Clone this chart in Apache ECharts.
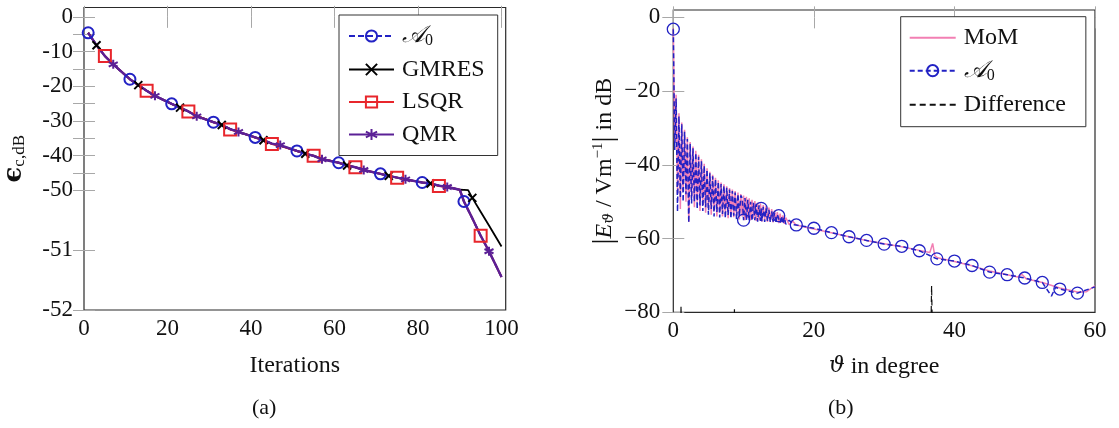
<!DOCTYPE html>
<html>
<head>
<meta charset="utf-8">
<script src="https://cdn.jsdelivr.net/npm/echarts@6/dist/echarts.min.js"></script>
<style>
  html, body { margin: 0; padding: 0; background: #fff; }
  #chart { width: 1119px; height: 428px; }
</style>
</head>
<body>
<div id="chart"></div>
<script>
// ---------- (a) relative error of the iterative solvers ----------
const iterations = [1, 3, 5, 7, 11, 13, 15, 17, 21, 23, 25, 27, 31, 33, 35, 37, 41, 43, 45, 47,
  51, 53, 55, 57, 61, 63, 65, 67, 71, 73, 75, 77, 81, 83, 85, 87, 90, 91, 92, 93, 95, 97, 100];
const a0Error = [-4.6, -8.2, -11.3, -13.7, -18.0, -19.7, -21.3, -22.8, -25.1, -26.2, -27.3, -28.6,
  -30.4, -31.2, -32.4, -33.2, -34.8, -35.6, -36.6, -37.2, -38.7, -39.5, -40.1, -41.0, -42.1, -42.9,
  -43.4, -44.2, -45.3, -45.9, -46.4, -46.9, -47.8, -48.1, -48.7, -49.1, -49.9, -50.19, -50.33,
  -50.47, -50.76, -51.02, -51.45];
const gmresError = [-4.6, -8.2, -11.3, -13.7, -18.0, -19.7, -21.3, -22.8, -25.1, -26.2, -27.3, -28.6,
  -30.4, -31.2, -32.4, -33.2, -34.8, -35.6, -36.6, -37.2, -38.7, -39.5, -40.1, -41.0, -42.1, -42.9,
  -43.4, -44.2, -45.3, -45.9, -46.4, -46.9, -47.8, -48.1, -48.7, -49.1, -49.9, -49.95, -50.0,
  -50.13, -50.36, -50.59, -50.94];
const lsqrError = [-4.6, -8.2, -11.3, -13.7, -18.0, -19.7, -21.3, -22.8, -25.1, -26.2, -27.3, -28.6,
  -30.4, -31.2, -32.5, -33.2, -34.8, -35.6, -36.7, -37.2, -38.7, -39.5, -40.1, -41.0, -42.1, -42.9,
  -43.4, -44.2, -45.3, -45.9, -46.4, -46.9, -47.8, -48.1, -48.8, -49.1, -49.9, -50.19, -50.33,
  -50.47, -50.76, -51.02, -51.45];
const qmrError = [-4.6, -8.2, -11.3, -13.7, -18.0, -19.7, -21.3, -22.8, -25.1, -26.2, -27.3, -28.7,
  -30.4, -31.2, -32.4, -33.2, -34.8, -35.6, -36.6, -37.0, -38.7, -39.5, -40.1, -41.1, -42.1, -42.9,
  -43.4, -44.2, -45.3, -45.9, -46.4, -46.9, -47.8, -48.1, -48.7, -49.1, -49.9, -50.19, -50.33,
  -50.47, -50.76, -51.02, -51.45];
const iterTicks = [0, 20, 40, 60, 80, 100];
const errTicks = [0, -10, -20, -30, -40, -50, -51, -52];
const errMinorTicks = [-5, -15, -25, -35, -45];

// ---------- (b) far field over the observation angle ----------
const momTheta = [0, 0.2, 0.4, 0.6, 0.8, 1, 1.2, 1.4, 1.6, 1.8, 2, 2.2, 2.4, 2.6, 2.8, 3, 3.2, 3.4,
  3.6, 3.8, 4, 4.2, 4.4, 4.6, 4.8, 5, 5.2, 5.4, 5.6, 5.8, 6, 6.2, 6.4, 6.6, 6.8, 7, 7.2, 7.4, 7.6,
  7.8, 8, 8.2, 8.4, 8.6, 8.8, 9, 9.2, 9.4, 9.6, 9.8, 10, 10.2, 10.4, 10.6, 10.8, 11, 11.2, 11.4,
  11.6, 11.8, 12, 12.2, 12.4, 12.6, 12.8, 13, 13.2, 13.4, 13.6, 13.8, 14, 14.2, 14.4, 14.6, 14.8,
  15, 15.2, 15.4, 15.6, 15.8, 16,
  16.5, 17, 17.5, 18, 19, 20, 22.5, 25, 27.5, 30, 32.5, 35, 36.5, 36.9, 37.2, 37.6,
  40, 42.5, 45, 47.5, 49, 49.6, 50.2, 52.5, 55, 57.5, 58.8, 60];
const momDb = [-3, -34, -21, -48, -26, -52, -28.5, -47, -30.5, -50, -32.5, -55.5, -33.8, -49,
  -35, -51.5, -36.2, -50, -37.3, -52.5, -38.5, -51, -39.7, -53, -40.9, -52, -41.9, -53.5, -42.7,
  -52.5, -43.5, -54, -44.2, -53, -44.8, -54, -45.3, -53.2, -45.8, -54.5, -46.3, -53.5, -46.7, -54.2,
  -47.1, -53.8, -47.5, -54.8, -47.9, -54, -48.3, -55, -48.7, -54.5, -49.1, -55, -49.5, -54.6, -49.8,
  -55.2, -50.2, -55, -50.5, -55.4, -50.9, -55.1, -51.2, -55.5, -51.6, -55.2, -52, -55.6, -52.4,
  -55.4, -52.8, -55.8, -53.2, -55.6, -53.7, -56, -54.3,
  -56.2, -55.3, -56.4, -56.5, -57, -57.4, -58.4, -59.5, -60.5, -61.4, -62.2, -63.2, -63.8, -61.3,
  -64.6, -65.2, -66.2, -67.4, -68.8, -69.8, -70.4, -69.7, -70.9, -71.9, -73.4, -74.5, -74.4, -72.8];
const a0Theta = [0, 0.2, 0.4, 0.6, 0.8, 1, 1.2, 1.4, 1.6, 1.8, 2, 2.2, 2.4, 2.6, 2.8, 3, 3.2, 3.4,
  3.6, 3.8, 4, 4.2, 4.4, 4.6, 4.8, 5, 5.2, 5.4, 5.6, 5.8, 6, 6.2, 6.4, 6.6, 6.8, 7, 7.2, 7.4, 7.6,
  7.8, 8, 8.2, 8.4, 8.6, 8.8, 9, 9.2, 9.4, 9.6, 9.8, 10, 10.2, 10.4, 10.6, 10.8, 11, 11.2, 11.4,
  11.6, 11.8, 12, 12.2, 12.4, 12.5, 12.6, 12.8, 13, 13.2, 13.4, 13.6, 13.8, 14, 14.2, 14.4, 14.6,
  14.8, 15, 15.2, 15.4, 15.6, 15.8, 16,
  16.5, 17, 17.5, 20, 22.5, 25, 27.5, 30, 32.5, 35, 37.5, 40, 42.5, 45, 47.5, 50, 52.5,
  53.8, 54.4, 55, 57.5, 60];
const a0Db = [-3.2, -36, -22, -52.7, -26.8, -49, -29, -50, -31, -48, -33, -55.7, -34.3, -50.5,
  -35.5, -50, -36.7, -52, -37.8, -51, -39, -52.5, -40.2, -51.5, -41.3, -53.5, -42.3, -52, -43.1, -54,
  -43.9, -52.8, -44.6, -54.3, -45.2, -53.3, -45.7, -54.5, -46.2, -53.6, -46.7, -54.6, -47.1, -53.8,
  -47.5, -54.8, -47.9, -54, -48.3, -49, -55, -49, -55, -49.5, -55, -50, -55.2, -50.3, -55, -50.6,
  -55.4, -51, -55.2, -51.8, -55.3, -51.4, -55.5, -51.8, -55.3, -52.2, -55.6, -52.6, -55.4, -53,
  -55.8, -53.4, -53.8, -55.7, -53.9, -56, -54.3, -56.1,
  -55, -56.2, -56.3, -57.2, -58.4, -59.5, -60.5, -61.5, -62.1, -63.3, -65.5, -66.1, -67.3, -69.1,
  -69.8, -70.7, -71.9, -75.6, -73.2, -73.7, -74.8, -73.1];
const a0MarkTheta = [0, 10, 12.5, 15, 17.5, 20, 22.5, 25, 27.5, 30, 32.5, 35, 37.5, 40, 42.5, 45,
  47.5, 50, 52.5, 55, 57.5];
const diffTheta = [0, 0.95, 1.1, 1.25, 8.55, 8.7, 8.85, 36.55, 36.75, 37.0, 60];
const diffDb = [-100, -100, -78.3, -100, -100, -79.2, -100, -100, -72.8, -100, -100];
const thetaTicks = [0, 20, 40, 60];
const fieldTicks = [0, -20, -40, -60, -80];

// ---------- helpers ----------
const SERIF = '"Liberation Serif", "DejaVu Serif", serif';
const TXT = '#111';
const TICK = '#a8a8a8';
const BLUE = '#2222c4';
const RED = '#e8262c';
const PURPLE = '#5b2096';
const PINK = '#f27fb3';
const TICK_FONT = 23;

// The error axis is stretched below -50 dB so the last decade stays readable.
const BREAK = -50, STRETCH = 17.3;
const warp = v => (v >= BREAK ? v : BREAK + (v - BREAK) * STRETCH);
const unwarp = t => (t >= BREAK ? t : BREAK + (t - BREAK) / STRETCH);

const CROSS = 'path://M0,0L10,10M0,10L10,0';
const STAR = 'path://M5,0L5,10M0.67,2.5L9.33,7.5M0.67,7.5L9.33,2.5';

const a0Name = '{cal|𝒜}{sub|0}';
const richA0 = {
  cal: { fontFamily: '"DejaVu Serif", serif', fontStyle: 'italic', fontSize: 24, color: TXT },
  sub: { fontFamily: SERIF, fontSize: 16, color: TXT, padding: [10, 0, 0, 0] }
};
const noMarker = { color: 'rgba(0,0,0,0)', borderWidth: 0 };

function solverSeries(name, values, phase, color, symbol, size, lineType, width) {
  return {
    name, type: 'line', xAxisIndex: 0, yAxisIndex: 0,
    data: iterations.map((it, i) => ({
      value: [it, warp(values[i])],
      symbol: it % 10 === phase ? symbol : 'none'
    })),
    symbol, symbolSize: size, showSymbol: true, showAllSymbol: true,
    lineStyle: { color, width, type: lineType },
    itemStyle: { color: 'rgba(255,255,255,0)', borderColor: color, borderWidth: 2 },
    emphasis: { disabled: true }
  };
}

function plainAxis(extra) {
  return Object.assign({
    type: 'value',
    axisLine: { show: false },
    splitLine: { show: false },
    axisTick: { show: true, inside: true, length: 11, lineStyle: { color: TICK, width: 1 } },
    axisLabel: { show: true, fontFamily: SERIF, fontSize: TICK_FONT, color: TXT }
  }, extra);
}

const errMin = warp(-52), errMax = 2.7;
const errTickPos = errTicks.concat(errMinorTicks).map(warp);

const option = {
  animation: false,
  backgroundColor: '#fff',
  grid: [
    { left: 84, top: 7.5, width: 421.7, height: 302.5, show: true, borderColor: '#2a2a2a', borderWidth: 1.2 },
    { left: 673.3, top: 10, width: 421.7, height: 302.3, show: true, borderColor: '#2a2a2a', borderWidth: 1.2 }
  ],
  legend: [
    {
      data: ['A0-iter', 'GMRES', 'LSQR', 'QMR'],
      orient: 'vertical', left: 339, top: 15,
      padding: [9, 13, 9, 9], itemGap: 8.5, itemWidth: 45, itemHeight: 14,
      backgroundColor: '#fff', borderColor: '#333', borderWidth: 1,
      textStyle: { fontFamily: SERIF, fontSize: 24, color: TXT, lineHeight: 22, padding: [0, 0, 0, 3], rich: richA0 },
      formatter: n => (n === 'A0-iter' ? a0Name : n),
      selectedMode: false
    },
    {
      data: [{ name: 'MoM', itemStyle: noMarker }, 'A0-field', { name: 'Difference', itemStyle: noMarker }],
      orient: 'vertical', left: 900.7, top: 16.7,
      padding: [9, 20, 10, 8], itemGap: 9, itemWidth: 46, itemHeight: 14,
      backgroundColor: '#fff', borderColor: '#333', borderWidth: 1,
      textStyle: { fontFamily: SERIF, fontSize: 24, color: TXT, lineHeight: 22, padding: [0, 0, 0, 3], rich: richA0 },
      formatter: n => (n === 'A0-field' ? a0Name : n),
      selectedMode: false
    }
  ],
  xAxis: [
    plainAxis({
      gridIndex: 0, min: 0, max: 101, position: 'bottom',
      name: 'Iterations', nameLocation: 'middle', nameGap: 44,
      nameTextStyle: { fontFamily: SERIF, fontSize: 24, color: TXT },
      axisTick: { show: true, inside: true, length: 11, customValues: iterTicks, lineStyle: { color: TICK } },
      axisLabel: { customValues: iterTicks, margin: 7, fontFamily: SERIF, fontSize: TICK_FONT, color: TXT }
    }),
    plainAxis({
      gridIndex: 0, min: 0, max: 101, position: 'top',
      axisTick: { show: true, inside: true, length: 11, customValues: iterTicks, lineStyle: { color: TICK } },
      axisLabel: { show: false }
    }),
    plainAxis({
      gridIndex: 1, min: 0, max: 60, position: 'bottom',
      name: '{i|ϑ}{t| in degree}', nameLocation: 'middle', nameGap: 42,
      nameTextStyle: {
        fontFamily: SERIF, fontSize: 24, color: TXT,
        rich: { i: { fontFamily: '"DejaVu Serif", serif', fontStyle: 'italic', fontSize: 22, color: TXT },
                t: { fontFamily: SERIF, fontSize: 24, color: TXT } }
      },
      axisTick: { show: true, inside: true, length: 11, customValues: thetaTicks, lineStyle: { color: TICK } },
      axisLabel: { customValues: thetaTicks, margin: 7, fontFamily: SERIF, fontSize: TICK_FONT, color: TXT }
    }),
    plainAxis({
      gridIndex: 1, min: 0, max: 60, position: 'top',
      axisTick: { show: true, inside: true, length: 11, customValues: thetaTicks, lineStyle: { color: TICK } },
      axisLabel: { show: false }
    })
  ],
  yAxis: [
    plainAxis({
      gridIndex: 0, min: errMin, max: errMax, position: 'left',
      name: '{e|ϵ}{s|c,dB}', nameLocation: 'middle', nameRotate: 90, nameGap: 56,
      nameTextStyle: {
        rich: { e: { fontFamily: '"DejaVu Serif", serif', fontWeight: 'bold', fontSize: 26, color: TXT },
                s: { fontFamily: SERIF, fontSize: 17, color: TXT, padding: [10, 0, 0, 0] } }
      },
      axisTick: { show: true, inside: true, length: 11, customValues: errTickPos, lineStyle: { color: TICK } },
      axisLabel: { customValues: errTicks.map(warp), margin: 11, fontFamily: SERIF, fontSize: TICK_FONT, color: TXT,
                   formatter: t => String(Math.round(unwarp(t))) }
    }),
    plainAxis({
      gridIndex: 0, min: errMin, max: errMax, position: 'right',
      axisTick: { show: true, inside: true, length: 11, customValues: errTickPos, lineStyle: { color: TICK } },
      axisLabel: { show: false }
    }),
    plainAxis({
      gridIndex: 1, min: -80, max: 2, position: 'left',
      name: '{b||}{i|E}{sub|ϑ}{t| / Vm}{sup|−1}{b||}{t| in dB}', nameLocation: 'middle', nameRotate: 90, nameGap: 54,
      nameTextStyle: {
        rich: {
          b: { fontFamily: SERIF, fontSize: 30, color: TXT },
          i: { fontFamily: SERIF, fontStyle: 'italic', fontSize: 24, color: TXT },
          sub: { fontFamily: '"DejaVu Serif", serif', fontStyle: 'italic', fontSize: 15, color: TXT, padding: [10, 0, 0, 0] },
          t: { fontFamily: SERIF, fontSize: 24, color: TXT },
          sup: { fontFamily: SERIF, fontSize: 15, color: TXT, padding: [0, 0, 12, 0] }
        }
      },
      axisTick: { show: true, inside: true, length: 11, customValues: fieldTicks, lineStyle: { color: TICK } },
      axisLabel: { customValues: fieldTicks, margin: 13, fontFamily: SERIF, fontSize: TICK_FONT, color: TXT,
                   formatter: v => String(v).replace('-', '−') }
    }),
    plainAxis({
      gridIndex: 1, min: -80, max: 2, position: 'right',
      axisTick: { show: true, inside: true, length: 11, customValues: fieldTicks, lineStyle: { color: TICK } },
      axisLabel: { show: false }
    })
  ],
  series: [
    solverSeries('A0-iter', a0Error, 1, BLUE, 'circle', 11, [6, 3], 2),
    solverSeries('GMRES', gmresError, 3, '#000', CROSS, 8, 'solid', 1.8),
    solverSeries('LSQR', lsqrError, 5, RED, 'rect', 12, 'solid', 2),
    solverSeries('QMR', qmrError, 7, PURPLE, STAR, 9, 'solid', 2.4),
    {
      name: 'MoM', type: 'line', xAxisIndex: 2, yAxisIndex: 2,
      data: momTheta.map((t, i) => [t, momDb[i]]),
      showSymbol: false, symbol: 'none',
      lineStyle: { color: PINK, width: 1.5 },
      itemStyle: { color: PINK },
      emphasis: { disabled: true }
    },
    {
      name: 'A0-field', type: 'line', xAxisIndex: 2, yAxisIndex: 2,
      data: a0Theta.map((t, i) => ({
        value: [t, a0Db[i]],
        symbol: a0MarkTheta.includes(t) ? 'circle' : 'none'
      })),
      symbol: 'circle', symbolSize: 12, showSymbol: true, showAllSymbol: true,
      lineStyle: { color: BLUE, width: 1.5, type: [5, 3] },
      itemStyle: { color: 'rgba(255,255,255,0)', borderColor: BLUE, borderWidth: 1.3 },
      emphasis: { disabled: true }
    },
    {
      name: 'Difference', type: 'line', xAxisIndex: 2, yAxisIndex: 2,
      data: diffTheta.map((t, i) => [t, diffDb[i]]),
      showSymbol: false, symbol: 'none', clip: true,
      lineStyle: { color: '#111', width: 1.2, type: [6, 4] },
      itemStyle: { color: '#111' },
      emphasis: { disabled: true }
    }
  ],
  graphic: [
    { type: 'text', left: 252, top: 397, style: { text: '(a)', fontFamily: SERIF, fontSize: 22, fill: TXT } },
    { type: 'text', left: 828, top: 397, style: { text: '(b)', fontFamily: SERIF, fontSize: 22, fill: TXT } }
  ]
};

const chart = echarts.init(document.getElementById('chart'), null, { renderer: 'canvas' });
chart.setOption(option);
</script>
</body>
</html>
